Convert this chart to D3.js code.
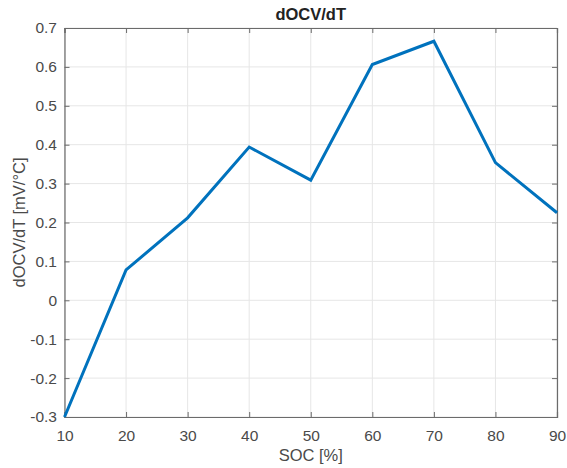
<!DOCTYPE html>
<html>
<head>
<meta charset="utf-8">
<script src="https://cdn.jsdelivr.net/npm/d3@7"></script>
<style>
  body { margin: 0; background: #fff; }
  svg text { font-family: "Liberation Sans", Arial, Helvetica, sans-serif; }
</style>
</head>
<body>
<svg id="chart"></svg>
<script>
// data
var soc = [10, 20, 30, 40, 50, 60, 70, 80, 90];
var dOCVdT = [-0.3, 0.078, 0.212, 0.394, 0.309, 0.606, 0.666, 0.354, 0.225];
var xTicks = [10, 20, 30, 40, 50, 60, 70, 80, 90];
var yTicks = [-0.3, -0.2, -0.1, 0, 0.1, 0.2, 0.3, 0.4, 0.5, 0.6, 0.7];

var width = 567, height = 468;
var margin = { top: 28, right: 10, bottom: 51, left: 64.5 };
var w = width - margin.left - margin.right;
var h = height - margin.top - margin.bottom;

var svg = d3.select("#chart").attr("width", width).attr("height", height);
var g = svg.append("g").attr("transform", "translate(" + margin.left + "," + margin.top + ")");

var xScale = d3.scaleLinear().domain([10, 90]).range([0, w]);
var yScale = d3.scaleLinear().domain([-0.3, 0.7]).range([h, 0]);

var axisCol = "#6b6b6b", textCol = "#4a4a4a";

// grid
g.selectAll(".vgrid").data(xTicks).enter().append("line")
  .attr("x1", d => xScale(d)).attr("x2", d => xScale(d))
  .attr("y1", 0).attr("y2", h)
  .attr("stroke", "#e6e6e6").attr("stroke-width", 1);
g.selectAll(".hgrid").data(yTicks).enter().append("line")
  .attr("y1", d => yScale(d)).attr("y2", d => yScale(d))
  .attr("x1", 0).attr("x2", w)
  .attr("stroke", "#e6e6e6").attr("stroke-width", 1);

// axes (ticks point inward, box on all sides)
var fmt = d => String(+d.toFixed(1));   // plain hyphen minus like matlab
var xAxis = d3.axisBottom(xScale).tickValues(xTicks).tickSize(-5).tickPadding(13).tickFormat(d3.format("d"));
var yAxis = d3.axisLeft(yScale).tickValues(yTicks).tickSize(-5).tickPadding(7.5).tickFormat(fmt);
var xTop = d3.axisTop(xScale).tickValues(xTicks).tickSize(-5).tickFormat("");
var yRight = d3.axisRight(yScale).tickValues(yTicks).tickSize(-5).tickFormat("");

function style(sel) {
  sel.selectAll("path").attr("stroke", axisCol).attr("stroke-width", 1.2);
  sel.selectAll("line").attr("stroke", axisCol);
  sel.selectAll("text").attr("fill", textCol).style("font-size", "15.5px");
}
g.append("g").attr("transform", "translate(0," + h + ")").call(xAxis).call(style);
g.append("g").call(yAxis).call(style);
g.append("g").call(xTop).call(style);
g.append("g").attr("transform", "translate(" + w + ",0)").call(yRight).call(style);

// line
var line = d3.line().x((d, i) => xScale(soc[i])).y(d => yScale(d));
g.append("path").datum(dOCVdT)
  .attr("d", line)
  .attr("fill", "none")
  .attr("stroke", "#0072BD")
  .attr("stroke-width", 3)
  .attr("stroke-linejoin", "miter");

// labels
svg.append("text").attr("x", margin.left + w / 2).attr("y", 20)
  .attr("text-anchor", "middle").style("font-size", "16.5px").style("font-weight", "bold")
  .attr("fill", "#222").text("dOCV/dT");
svg.append("text").attr("x", margin.left + w / 2).attr("y", 461)
  .attr("text-anchor", "middle").style("font-size", "16.5px")
  .attr("fill", textCol).text("SOC [%]");
svg.append("text")
  .attr("transform", "translate(25," + (margin.top + h / 2) + ") rotate(-90)")
  .attr("text-anchor", "middle").style("font-size", "16.5px")
  .attr("fill", textCol).text("dOCV/dT [mV/°C]");
</script>
</body>
</html>
